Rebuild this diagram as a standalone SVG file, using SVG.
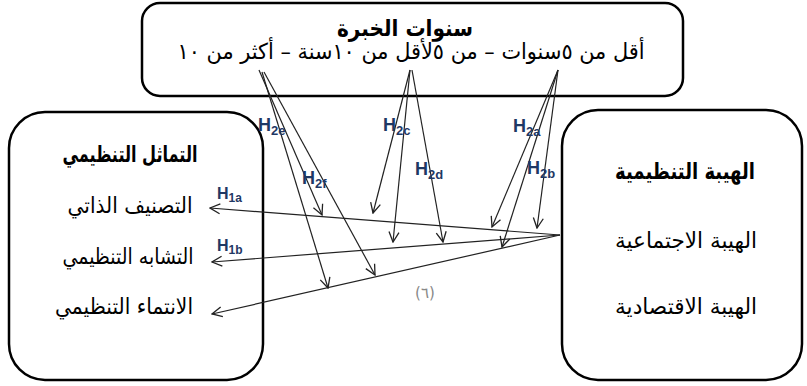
<svg xmlns="http://www.w3.org/2000/svg" width="807" height="386" viewBox="0 0 807 386">
<defs>
<marker id="arr" viewBox="0 0 12 12" refX="11" refY="6" markerWidth="12" markerHeight="12" markerUnits="userSpaceOnUse" orient="auto">
<path d="M1,1 L11,6 L1,11" fill="none" stroke="#222" stroke-width="1.3"/>
</marker>
<style>
.box{fill:#fff;stroke:#000;stroke-width:2.5}
.t{font-family:"DejaVu Sans","Liberation Sans",sans-serif;font-size:22px;fill:#000;text-anchor:middle}
.b{font-weight:bold;font-size:23px}
.h{font-family:"Liberation Sans",Arial,sans-serif;font-weight:bold;font-size:18px;fill:#1F3864}
.h1{font-size:16px}
.s{font-size:13px}
.h1 .s{font-size:12px}
.c{stroke:#222;stroke-width:1.2;fill:none;marker-end:url(#arr)}
.n{font-family:"DejaVu Sans",sans-serif;font-size:15px;fill:#888;text-anchor:middle}
</style>
</defs>
<rect width="807" height="386" fill="#fff"/>
<g id="node-experience">
<rect class="box" x="142" y="3" width="541" height="93" rx="18"/>
<text class="t b" x="405" y="36" textLength="136" lengthAdjust="spacingAndGlyphs">سنوات الخبرة</text>
<text class="t" x="411" y="59" font-size="20" textLength="467" lengthAdjust="spacingAndGlyphs">أقل من ٥سنوات – من ٥لأقل من ١٠سنة – أكثر من ١٠</text>
</g>
<g id="node-identification">
<rect class="box" x="9" y="112" width="254" height="268" rx="36"/>
<text class="t b" x="130" y="162" textLength="135" lengthAdjust="spacingAndGlyphs">التماثل التنظيمي</text>
<text class="t" x="130" y="213" textLength="125" lengthAdjust="spacingAndGlyphs">التصنيف الذاتي</text>
<text class="t" x="128" y="264" textLength="131" lengthAdjust="spacingAndGlyphs">التشابه التنظيمي</text>
<text class="t" x="124" y="314" textLength="138" lengthAdjust="spacingAndGlyphs">الانتماء التنظيمي</text>
</g>
<g id="node-prestige">
<rect class="box" x="562" y="110" width="240" height="270" rx="36"/>
<text class="t b" x="685" y="179" textLength="140" lengthAdjust="spacingAndGlyphs">الهيبة التنظيمية</text>
<text class="t" x="686" y="248" textLength="142" lengthAdjust="spacingAndGlyphs">الهيبة الاجتماعية</text>
<text class="t" x="686" y="314" textLength="142" lengthAdjust="spacingAndGlyphs">الهيبة الاقتصادية</text>
</g>
<g id="connectors">
<line class="c" x1="560" y1="235" x2="210" y2="208"/>
<line class="c" x1="560" y1="235" x2="212" y2="262"/>
<line class="c" x1="560" y1="235" x2="212" y2="314"/>
<line class="c" x1="259" y1="70" x2="322" y2="215"/>
<line class="c" x1="262" y1="72" x2="328" y2="288"/>
<line class="c" x1="264" y1="72" x2="375" y2="275"/>
<line class="c" x1="410" y1="70" x2="373" y2="213"/>
<line class="c" x1="410" y1="70" x2="393" y2="242"/>
<line class="c" x1="412" y1="70" x2="443" y2="242"/>
<line class="c" x1="558" y1="70" x2="492" y2="227"/>
<line class="c" x1="558" y1="70" x2="502" y2="247"/>
<line class="c" x1="558" y1="70" x2="537" y2="228"/>
</g>
<g id="labels">
<text class="h h1" x="217" y="199">H<tspan class="s" dy="3">1a</tspan></text>
<text class="h h1" x="217" y="251">H<tspan class="s" dy="3">1b</tspan></text>
<text class="h" x="258" y="131">H<tspan class="s" dy="4">2e</tspan></text>
<text class="h" x="302" y="184">H<tspan class="s" dy="4">2f</tspan></text>
<text class="h" x="383" y="131">H<tspan class="s" dy="4">2c</tspan></text>
<text class="h" x="415" y="175">H<tspan class="s" dy="4">2d</tspan></text>
<text class="h" x="513" y="132">H<tspan class="s" dy="4">2a</tspan></text>
<text class="h" x="527" y="174">H<tspan class="s" dy="4">2b</tspan></text>
<text class="n" x="425" y="298">(٦)</text>
</g>
</svg>
